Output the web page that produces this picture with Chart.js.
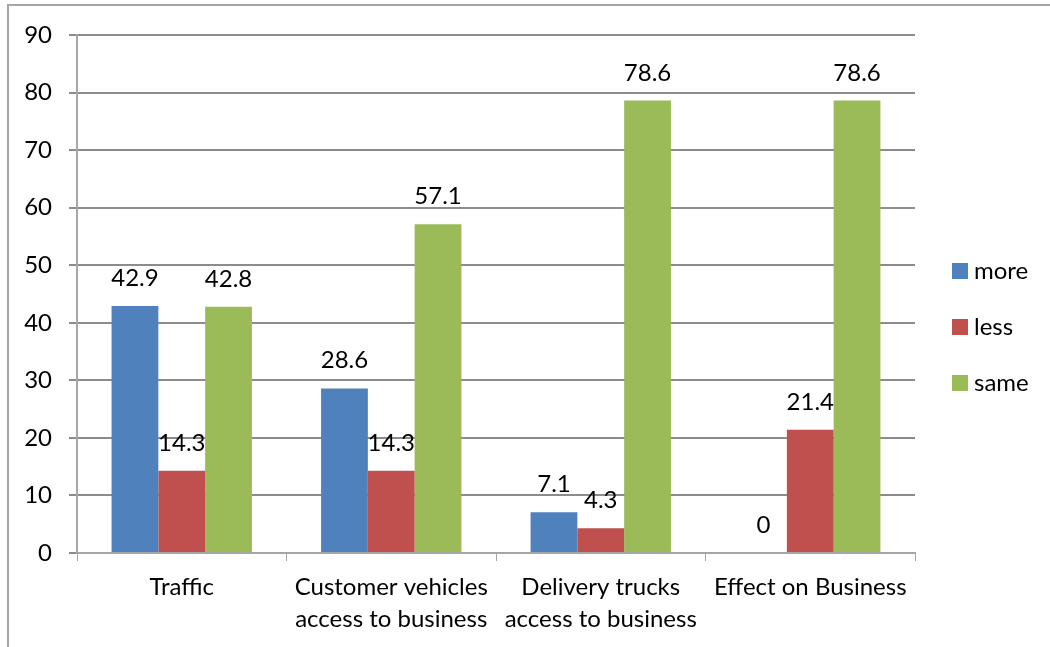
<!DOCTYPE html>
<html>
<head>
<meta charset="utf-8">
<script src="https://cdn.jsdelivr.net/npm/chart.js@4.4.0/dist/chart.umd.min.js"></script>
<style>
  html, body { margin: 0; padding: 0; background: #fff; }
  #wrap { width: 1050px; height: 647px; position: relative; }
</style>
</head>
<body>
<div id="wrap"><canvas id="chart" width="1050" height="647"></canvas></div>
<script>
const categories = [
  'Traffic',
  ['Customer vehicles', 'access to business'],
  ['Delivery trucks', 'access to business'],
  'Effect on Business'
];
const moreValues = [42.9, 28.6, 7.1, 0];
const lessValues = [14.3, 14.3, 4.3, 21.4];
const sameValues = [42.8, 57.1, 78.6, 78.6];
const seriesNames = ['more', 'less', 'same'];
const seriesColors = ['#4f81bd', '#c0504d', '#9bbb59'];

const FONT = 'Lato, "Open Sans", sans-serif';

// value labels above every bar
const valueLabels = {
  id: 'valueLabels',
  afterDatasetsDraw(chart) {
    const ctx = chart.ctx;
    ctx.save();
    ctx.font = '24px ' + FONT;
    ctx.fillStyle = '#000';
    ctx.textAlign = 'center';
    ctx.textBaseline = 'alphabetic';
    chart.data.datasets.forEach((ds, i) => {
      chart.getDatasetMeta(i).data.forEach((bar, j) => {
        ctx.fillText(String(ds.data[j]), bar.x, bar.y - 20);
      });
    });
    ctx.restore();
  }
};

// frame + legend on the right
const frameAndLegend = {
  id: 'frameAndLegend',
  afterDraw(chart) {
    const ctx = chart.ctx;
    ctx.save();
    ctx.strokeStyle = '#a6a6a6';
    ctx.lineWidth = 2;
    ctx.beginPath();
    ctx.moveTo(8, 647);
    ctx.lineTo(8, 5);
    ctx.lineTo(1050, 5);
    ctx.stroke();

    ctx.font = '24px ' + FONT;
    ctx.textBaseline = 'middle';
    ctx.textAlign = 'left';
    chart.data.datasets.forEach((ds, i) => {
      const y = 271 + i * 56;
      ctx.fillStyle = ds.backgroundColor;
      ctx.fillRect(952, y - 8, 16, 16);
      ctx.fillStyle = '#000';
      ctx.fillText(ds.label, 974, y);
    });
    ctx.restore();
  }
};

new Chart(document.getElementById('chart'), {
  type: 'bar',
  data: {
    labels: categories,
    datasets: [
      { label: seriesNames[0], data: moreValues, backgroundColor: seriesColors[0] },
      { label: seriesNames[1], data: lessValues, backgroundColor: seriesColors[1] },
      { label: seriesNames[2], data: sameValues, backgroundColor: seriesColors[2] }
    ]
  },
  options: {
    responsive: false,
    animation: false,
    categoryPercentage: 0.67,
    barPercentage: 1,
    layout: { padding: { left: 0, top: 35, right: 135, bottom: 0 } },
    plugins: { legend: { display: false }, tooltip: { enabled: false } },
    scales: {
      x: {
        grid: { drawOnChartArea: false, drawTicks: true, tickLength: 8, tickColor: '#a6a6a6', offset: true },
        border: { color: '#a6a6a6', width: 2 },
        ticks: { color: '#000', font: { family: FONT, size: 24, lineHeight: 1.33 }, padding: 10, maxRotation: 0, autoSkip: false },
        afterFit(scale) { scale.height = 94; }
      },
      y: {
        min: 0,
        max: 90,
        ticks: { stepSize: 10, color: '#000', font: { family: FONT, size: 24 }, padding: 17 },
        grid: { color: '#8c8c8c', lineWidth: 2, tickLength: 8, tickColor: '#8c8c8c' },
        border: { color: '#a6a6a6', width: 2 },
        afterFit(scale) { scale.width = 77; }
      }
    }
  },
  plugins: [valueLabels, frameAndLegend]
});
</script>
</body>
</html>
